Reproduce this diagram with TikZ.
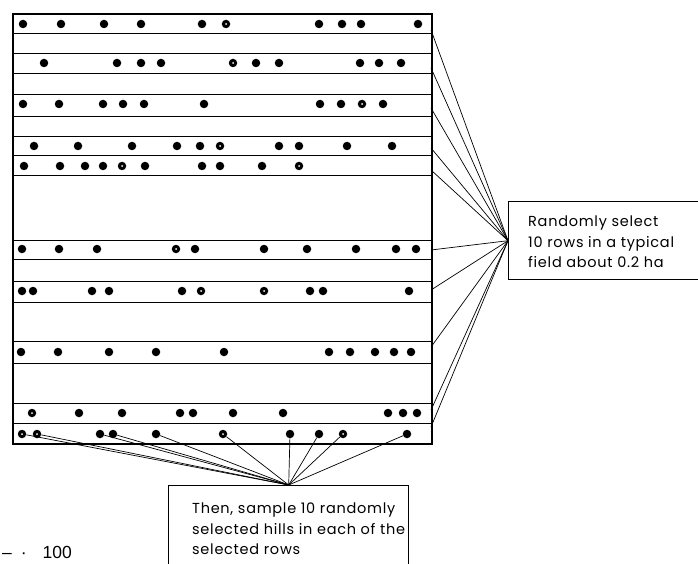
\documentclass[tikz,border=0pt]{standalone}
\usepackage{fontspec}
\setmainfont{Liberation Sans}
\newfontfamily\labfont[LetterSpace=5]{Poppins}
\begin{document}
\begin{tikzpicture}[x=1pt,y=-1pt,
  dot/.style={circle, fill=black, inner sep=0pt, minimum size=8.5pt},
  strip/.style={draw, line width=1pt, inner sep=0pt, minimum width=419pt, anchor=north west},
  conn/.style={line width=0.7pt},
  boxstyle/.style={draw, line width=1.4pt, inner sep=0pt, anchor=north west},
  lab/.style={font=\labfont\fontsize{14.5}{20.5}\selectfont, anchor=north west, align=left, inner sep=0pt}
]
\useasboundingbox (0,0) rectangle (698,564);

% rows
\foreach \n/\t/\h in {1/13/20, 2/53/20, 3/94/22, 4/136/19, 5/155/20, 6/240/19, 7/281/21, 8/341/22, 9/403/20, 10/423/20}
  \node[strip, minimum height=\h pt] (r\n) at (12,\t) {};
\node[draw, line width=1.7pt, inner sep=0pt, minimum width=419pt, minimum height=430pt, anchor=north west] (field) at (12,13) {};

% dots
\foreach \row/\y/\xs in {
  1/24/{23,61,104,141,202,226,319,342,361,418},
  2/63/{44,117,141,161,233,256,279,360,379,401},
  3/104/{23,59,103,123,144,204,320,341,362,383},
  4/146/{34,78,132,177,200,220,279,299,347,392},
  5/166/{24,60,85,103,122,145,202,220,262,299},
  6/249/{22,59,97,176,195,264,307,356,396,416},
  7/291/{22,33,92,109,182,201,264,310,323,409},
  8/352/{21,58,109,156,224,329,350,375,394,411},
  9/413/{32,79,122,180,193,233,283,388,403,417},
  10/434/{22,37,100,113,156,223,290,319,343,407}}
  {\foreach \x [count=\i] in \xs \node[dot] (d\row-\i) at (\x,\y) {};}

% small white specks on some hills
\foreach \d in {d1-6,d2-5,d3-9,d4-6,d5-5,d5-10,d6-4,d7-6,d7-7,d9-1,d10-1,d10-2,d10-6,d10-9}
  \fill[white] (\d) circle (1);

% boxes
\node[boxstyle, minimum width=200pt, minimum height=78pt] (rbox) at (508,201) {};
\node[lab] (rtext) at (528,216) {Randomly select\\10 rows in a typical\\field about 0.2 ha};
\node[boxstyle, minimum width=240pt, minimum height=100pt] (bbox) at (168,485) {};
\node[lab] (btext) at (192,503) {Then, sample 10 randomly\\selected hills in each of the\\selected rows};

% connectors to the right box
\foreach \n/\y in {1/30,2/68,3/108,4/148,5/170,6/250,7/290,8/347,9/410,10/427}
  \coordinate (e\n) at (431,\y);
\foreach \n in {1,...,10}
  \draw[conn] (e\n) -- (rbox.west);

% connectors to the bottom box
\foreach \i in {1,...,10}
  \draw[conn] (d10-\i) -- (bbox.north);

% page residue
\node[font=\fontsize{17.5}{18}\selectfont, anchor=base west, inner sep=0pt] (pg) at (2,558) {–\hspace{9pt}·\hspace{16pt}100};
\end{tikzpicture}
\end{document}
